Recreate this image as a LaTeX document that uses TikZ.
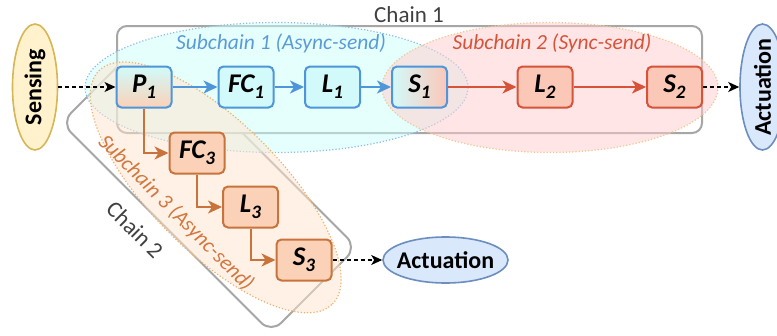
\documentclass[tikz,border=0pt]{standalone}
\usepackage{fontspec}
\setmainfont{Carlito}
\usetikzlibrary{shapes.geometric,arrows.meta}
\definecolor{bluebd}{HTML}{4E95D9}
\definecolor{cyanbox}{HTML}{D2FAFA}
\definecolor{redbd}{HTML}{D6533A}
\definecolor{redbox}{HTML}{FBC8B8}
\definecolor{orbd}{HTML}{C9733C}
\definecolor{orbox}{HTML}{FBD2B8}
\definecolor{senfill}{HTML}{FFF2CC}
\definecolor{senbd}{HTML}{D6B656}
\definecolor{actfill}{HTML}{DAE8FC}
\definecolor{actbd}{HTML}{6C8EBF}
\definecolor{chaingray}{HTML}{A6A6A6}
\definecolor{chaintext}{HTML}{404040}
\definecolor{ecyan}{HTML}{CCFFFD}
\definecolor{epink}{HTML}{FFCCCC}
\definecolor{eorange}{HTML}{FFE4CC}
\definecolor{ecyanbd}{HTML}{8CBCE8}
\definecolor{epinkbd}{HTML}{F0C890}
\definecolor{eorbd}{HTML}{EDB26A}
\definecolor{sublblue}{HTML}{5B9BD5}
\definecolor{sublred}{HTML}{D6533A}
\definecolor{sublor}{HTML}{D2773F}
\newcommand\sbx[1]{\raisebox{-0.45ex}{\fontsize{19}{19}\selectfont #1}}
\begin{document}
\begin{tikzpicture}[x=1pt,y=-1pt,
  box/.style={rectangle, rounded corners=5pt, line width=2pt, minimum width=55pt, minimum height=41pt, inner sep=0pt, font=\fontsize{27}{27}\selectfont\bfseries\itshape},
  bbox/.style={box, draw=bluebd, fill=cyanbox},
  rbox/.style={box, draw=redbd, fill=redbox},
  obox/.style={box, draw=orbd, fill=orbox},
  barrow/.style={line width=2pt, draw=bluebd, -{Stealth[length=14pt,width=13pt,inset=4pt]}},
  rarrow/.style={line width=2pt, draw=redbd, -{Stealth[length=14pt,width=13pt,inset=4pt]}},
  oarrow/.style={line width=2pt, draw=orbd, -{Stealth[length=14pt,width=13pt,inset=4pt]}},
  dasharrow/.style={line width=1.2pt, dash pattern=on 4pt off 3pt, -{Stealth[length=11pt,width=10pt,inset=3pt]}},
  ell/.style={ellipse, inner sep=0pt, line width=1.6pt},
  elltext/.style={font=\fontsize{24}{24}\selectfont\bfseries},
  chainbox/.style={draw=chaingray, line width=2pt, inner sep=0pt},
  subell/.style={ellipse, inner sep=0pt, line width=1.2pt, dotted, fill opacity=0.5},
  sublabel/.style={font=\fontsize{21.5}{21.5}\selectfont\itshape},
  chainlabel/.style={font=\fontsize{23}{23}\selectfont, text=chaintext}
]
\useasboundingbox (0,0) rectangle (777,335);
\clip (0,0) rectangle (777,335);
% chain boxes
\node[chainbox, rounded corners=14pt, minimum width=297pt, minimum height=121pt, rotate=-45] (chain2) at (209,185) {};
\node[chainbox, fill=white, rounded corners=10pt, minimum width=585pt, minimum height=107pt] (chain1) at (409.5,79.5) {};
% subchain ellipses
\node[subell, fill=ecyan, draw=ecyanbd, minimum width=383pt, minimum height=130pt] (sub1) at (276.5,87.5) {};
\node[subell, fill=epink, draw=epinkbd, minimum width=336pt, minimum height=130pt] (sub2) at (550,87.5) {};
\node[subell, fill=eorange, draw=eorbd, minimum width=330pt, minimum height=130pt, rotate=-45] (sub3) at (215.7,187.4) {};
% labels
\node[chainlabel] (lc1) at (409,15) {Chain 1};
\node[chainlabel, rotate=-45] (lc2) at (135,230) {Chain 2};
\node[sublabel, text=sublblue] (ls1) at (281,43) {Subchain 1 (Async-send)};
\node[sublabel, text=sublred] (ls2) at (552,43) {Subchain 2 (Sync-send)};
\node[sublabel, text=sublor, rotate=-45] (ls3) at (176,213) {Subchain 3 (Async-send)};
% end nodes
\node[ell, draw=senbd, fill=senfill, minimum width=45pt, minimum height=126pt] (sens) at (35,87) {};
\node[elltext, rotate=90] (senst) at (sens.center) {Sensing};
\node[ell, draw=actbd, fill=actfill, minimum width=45pt, minimum height=126pt] (act1) at (762.5,87) {};
\node[elltext, rotate=90] (act1t) at (act1.center) {Actuation};
\node[ell, draw=actbd, fill=actfill, minimum width=125pt, minimum height=46pt] (act2) at (445.5,260) {};
\node[elltext] (act2t) at (act2.center) {Actuation};
% task boxes
\node[box, draw=bluebd, top color=cyanbox, bottom color=orbox] (P1) at (144,87) {P\sbx{1}};
\node[bbox] (FC1) at (246,87) {FC\sbx{1}};
\node[bbox] (L1) at (332.5,87) {L\sbx{1}};
\node[box, draw=bluebd, left color=cyanbox, right color=redbox!85!pink] (S1) at (419.5,87) {S\sbx{1}};
\node[rbox] (L2) at (545,87) {L\sbx{2}};
\node[rbox] (S2) at (674.5,87) {S\sbx{2}};
\node[obox] (FC3) at (197,153) {FC\sbx{3}};
\node[obox] (L3) at (250.5,207) {L\sbx{3}};
\node[obox] (S3) at (304,260) {S\sbx{3}};
% connectors
\draw[barrow] (P1) -- (FC1);
\draw[barrow] (FC1) -- (L1);
\draw[barrow] (L1) -- (S1);
\draw[rarrow] (S1) -- (L2);
\draw[rarrow] (L2) -- (S2);
\draw[oarrow] (P1.south) |- (FC3.west);
\draw[oarrow] (FC3.south) |- (L3.west);
\draw[oarrow] (L3.south) |- (S3.west);
\draw[dasharrow] (sens.east) -- (P1.west);
\draw[dasharrow] (S2.east) -- (act1.west);
\draw[dasharrow] (S3.east) -- (act2.west);
\end{tikzpicture}
\end{document}
